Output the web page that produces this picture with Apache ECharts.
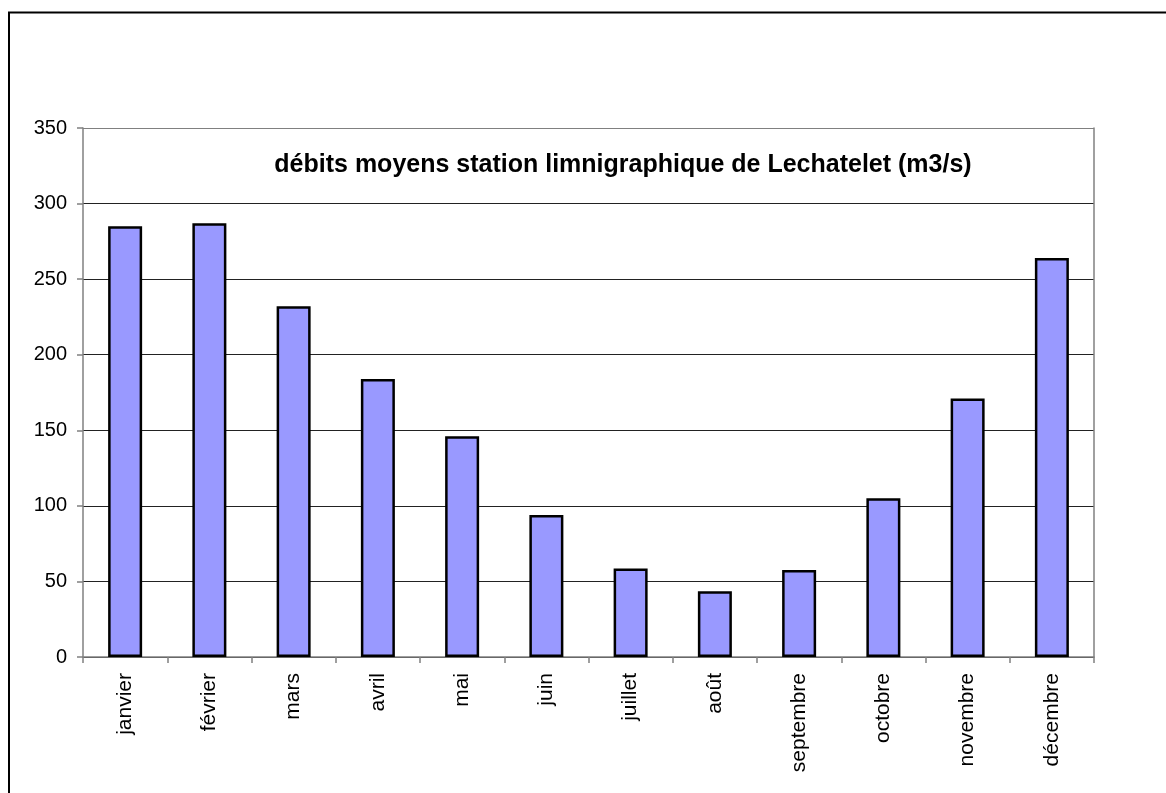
<!DOCTYPE html>
<html>
<head>
<meta charset="utf-8">
<script src="https://cdn.jsdelivr.net/npm/echarts@6/dist/echarts.min.js"></script>
<style>
html,body{margin:0;padding:0;background:#fff;}
#chart{width:1166px;height:793px;}
</style>
</head>
<body>
<div id="chart"></div>
<script>
const titleText = 'débits moyens station limnigraphique de Lechatelet (m3/s)';
const months = ['janvier','février','mars','avril','mai','juin','juillet','août','septembre','octobre','novembre','décembre'];
const debits = [285, 287, 232, 184, 146, 94, 58.5, 43.5, 57.5, 105, 171, 264];
const yMin = 0, yMax = 350, yStep = 50;

const FONT = '"Liberation Sans", Arial, sans-serif';
const chart = echarts.init(document.getElementById('chart'));
chart.setOption({
  backgroundColor: '#fff',
  animation: false,
  title: {
    text: titleText,
    left: 618,
    top: 148,
    textAlign: 'center',
    textStyle: { fontFamily: FONT, fontSize: 25, fontWeight: 'bold', color: '#000' }
  },
  graphic: [{
    type: 'rect',
    shape: { x: 9, y: 12.5, width: 1300, height: 1000 },
    style: { fill: 'none', stroke: '#000', lineWidth: 2 },
    silent: true
  }],
  grid: { left: 83, right: 72, top: 128, bottom: 136, containLabel: false },
  xAxis: {
    type: 'category',
    data: months,
    boundaryGap: true,
    axisLine: { show: true, lineStyle: { color: '#808080', width: 1.5 } },
    axisTick: { show: true, interval: 0, length: 6, lineStyle: { color: '#808080', width: 1.5 } },
    axisLabel: { interval: 0, rotate: 90, margin: 16, fontFamily: FONT, fontSize: 21, color: '#000' },
    splitLine: { show: false }
  },
  yAxis: [{
    type: 'value',
    min: yMin, max: yMax, interval: yStep,
    axisLine: { show: true, lineStyle: { color: '#808080', width: 1.5 } },
    axisTick: { show: true, inside: false, length: 6, lineStyle: { color: '#808080', width: 1.5 } },
    axisLabel: { margin: 16, fontFamily: FONT, fontSize: 20, color: '#000' },
    splitLine: { show: true, lineStyle: { color: ['#222','#222','#222','#222','#222','#222','#222','#808080'], width: 1.2 } }
  }, {
    type: 'value',
    position: 'right',
    min: yMin, max: yMax, interval: yStep,
    axisLine: { show: true, lineStyle: { color: '#808080', width: 1.5 } },
    axisTick: { show: false },
    axisLabel: { show: false },
    splitLine: { show: false }
  }],
  series: [{
    type: 'bar',
    data: debits,
    barWidth: 34,
    itemStyle: { color: '#9999FF', borderColor: '#000', borderWidth: 2.5 }
  }]
});
</script>
</body>
</html>
